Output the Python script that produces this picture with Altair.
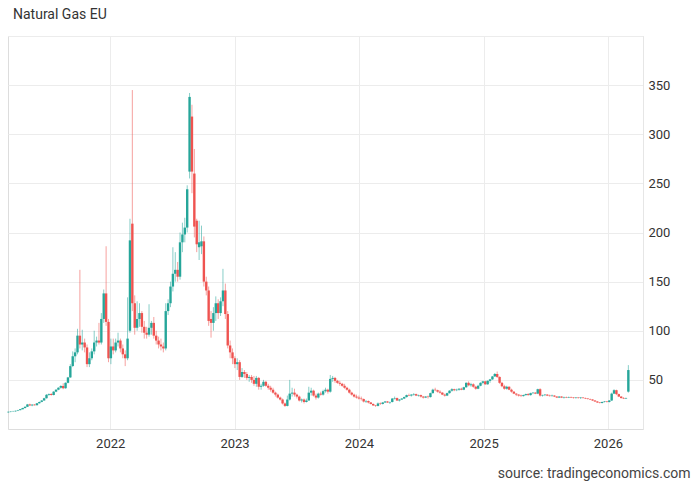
import altair as alt
import pandas as pd

title_text = "Natural Gas EU"
source_text = "source: tradingeconomics.com"
first_week = "2021-03-08"
n_weeks = 261
year_ticks = [2022, 2023, 2024, 2025, 2026]
y_ticks = [0, 50, 100, 150, 200, 250, 300, 350, 400]
up_color = "#26a69a"
down_color = "#ef5350"

# ---- weekly candles (EUR/MWh) ----
open_2021 = [17.0, 17.5, 17.8, 18.0, 18.5, 19.2, 20.2, 21.3, 22.6, 25.0, 24.0, 24.8, 24.2, 26.2, 27.6, 29.0, 31.3, 34.8, 35.6, 34.6, 38.0, 40.0, 42.0, 43.8, 41.5, 47.0, 52.5, 64.0, 74.0, 78.0, 95.0, 86.0, 88.0, 83.0, 66.0, 72.0, 79.0, 88.0, 90.0, 88.0, 112.0, 138.0, 109.0]
high_2021 = [17.8, 18.2, 18.5, 18.8, 19.5, 20.4, 21.6, 23.0, 25.5, 25.8, 25.2, 25.4, 26.5, 28.0, 29.5, 31.8, 35.5, 36.2, 36.5, 38.5, 40.5, 42.5, 44.5, 46.5, 47.5, 53.0, 66.0, 79.0, 82.0, 102.0, 162.0, 101.0, 92.0, 86.0, 78.0, 82.0, 100.0, 94.0, 108.0, 118.0, 142.0, 186.0, 112.0]
low_2021 = [16.5, 17.0, 17.4, 17.6, 18.2, 19.0, 20.0, 21.0, 22.4, 23.6, 23.2, 23.8, 24.0, 25.8, 27.2, 28.8, 31.0, 33.8, 34.0, 34.2, 37.5, 39.5, 41.0, 40.5, 41.0, 46.5, 52.0, 63.0, 68.0, 76.0, 82.0, 80.0, 78.0, 63.0, 63.0, 70.0, 76.0, 84.0, 86.0, 86.0, 108.0, 105.0, 68.0]
close_2021 = [17.5, 17.8, 18.0, 18.5, 19.2, 20.2, 21.3, 22.6, 25.0, 24.0, 24.8, 24.2, 26.2, 27.6, 29.0, 31.3, 34.8, 35.6, 34.6, 38.0, 40.0, 42.0, 43.8, 41.5, 47.0, 52.5, 64.0, 74.0, 78.0, 95.0, 86.0, 88.0, 83.0, 66.0, 72.0, 79.0, 88.0, 90.0, 88.0, 112.0, 138.0, 109.0, 72.0]

open_2022 = [72, 84, 80, 88, 90, 82, 76, 72, 100, 209, 128, 103, 112, 118, 104, 98, 96, 103, 108, 95, 90, 86, 84, 82, 120, 128, 145, 158, 162, 155, 190, 198, 205, 262, 318, 260, 212, 185, 186, 191, 150, 141, 112, 108, 118, 128, 118, 130, 141, 117, 85, 78]
high_2022 = [92, 92, 92, 98, 92, 86, 80, 134, 214, 345, 136, 130, 128, 120, 110, 104, 127, 110, 114, 100, 94, 92, 88, 128, 132, 150, 185, 180, 170, 200, 210, 215, 248, 342, 330, 285, 214, 212, 207, 196, 155, 145, 120, 124, 135, 132, 134, 163, 148, 120, 90, 82]
low_2022 = [66, 76, 78, 84, 78, 72, 64, 70, 98, 120, 96, 100, 104, 98, 92, 92, 94, 96, 92, 86, 82, 80, 78, 80, 116, 124, 140, 150, 150, 152, 180, 190, 200, 255, 240, 195, 180, 172, 178, 145, 136, 105, 93, 100, 110, 112, 115, 125, 112, 82, 72, 66]
close_2022 = [84, 80, 88, 90, 82, 76, 72, 92, 192, 128, 103, 112, 118, 104, 98, 96, 103, 108, 95, 90, 86, 84, 82, 120, 128, 145, 158, 162, 155, 190, 198, 205, 244, 338, 262, 206, 188, 190, 191, 150, 141, 110, 108, 118, 128, 118, 130, 141, 117, 85, 78, 72]

open_2023 = [72, 66, 68, 53, 58, 56, 52, 53, 50, 46, 52, 43, 44, 48, 44, 42, 40, 37, 35, 32, 30, 26, 23.5, 30, 36, 37, 35, 33, 29, 30, 27.5, 29, 37, 39, 34, 32, 36, 35, 38.5, 40, 38, 51, 52, 49, 47, 46, 44, 42, 40, 37, 35, 33]
high_2023 = [74, 72, 70, 62, 60, 58, 55, 55, 54, 54, 53, 46, 50, 49, 46, 44, 42, 38, 36, 33, 31, 27, 34, 50, 42, 41, 36, 34, 31, 31, 31, 43, 42, 40, 36, 37, 38, 40, 42, 41, 55, 54, 53, 50, 49, 47, 46, 43, 41, 38, 36, 35]
low_2023 = [62, 60, 50, 52, 52, 50, 48, 47, 44, 43, 40, 40, 43, 43, 40, 38, 36, 33, 31, 29, 25, 22.5, 23, 29, 33, 33, 31, 28, 27, 26, 27, 29, 34, 33, 30, 31, 34, 34, 37, 36, 37, 48, 47, 46, 44, 43, 41, 39, 36, 34, 32, 31]
close_2023 = [66, 68, 53, 58, 56, 52, 53, 50, 46, 52, 43, 44, 48, 44, 42, 40, 37, 35, 32, 30, 26, 23.5, 30, 36, 37, 35, 33, 29, 30, 27.5, 29, 37, 39, 34, 32, 36, 35, 38.5, 40, 38, 51, 52, 49, 47, 46, 44, 42, 40, 37, 35, 33, 32]

open_2024 = [32, 31, 30.5, 28, 28.5, 27, 25.5, 24, 23.5, 26, 25.5, 27, 28, 27, 27.5, 31, 31.5, 29, 30, 31, 32.5, 34.5, 34, 35, 35.5, 34, 34.5, 33, 32, 33, 32.5, 36.5, 40, 39.5, 38, 37, 35, 34, 36.5, 39, 40.5, 39.5, 40, 41, 40, 42.5, 47, 44.5, 45.5, 43, 41, 44, 47]
high_2024 = [34, 33, 31, 29.5, 29, 27.5, 26, 24.5, 27, 27, 27.5, 28.5, 28.5, 28, 31.5, 33, 32, 30.5, 31.5, 33, 35, 36, 35.5, 36.5, 36, 35, 35, 33.5, 33.5, 34, 37, 41, 42, 40, 39.5, 37.5, 36, 37, 39.5, 41.5, 41, 41, 41.5, 42, 43, 47.5, 48.5, 47, 46.5, 44, 45, 47.5, 49]
low_2024 = [30, 29, 27, 26.5, 26, 25, 23.5, 22.5, 23, 24.5, 25, 26.5, 26.5, 25.5, 27, 30, 28.5, 28, 29.5, 30.5, 32, 33.5, 33, 34, 33.5, 33, 32, 31, 31.5, 31, 32, 36, 38.5, 37, 36, 34.5, 33, 33.5, 36, 38, 38.5, 38.5, 39, 39.5, 39.5, 42, 43.5, 43, 42, 40, 40.5, 43.5, 45.5]
close_2024 = [31, 30.5, 28, 28.5, 27, 25.5, 24, 23.5, 26, 25.5, 27, 28, 27, 27.5, 31, 31.5, 29, 30, 31, 32.5, 34.5, 34, 35, 35.5, 34, 34.5, 33, 32, 33, 32.5, 36.5, 40, 39.5, 38, 37, 35, 34, 36.5, 39, 40.5, 39.5, 40, 41, 40, 42.5, 47, 44.5, 45.5, 43, 41, 44, 47, 48.5]

open_2025 = [48.5, 45.5, 49, 50.5, 53.5, 56, 53, 47, 43.5, 41, 43, 40, 38, 36, 35, 34, 33.5, 34.5, 35.5, 34.5, 36.5, 37, 36, 40.5, 34, 34.5, 35, 34, 33.5, 34, 33, 32, 33, 32, 32.5, 32, 32.5, 32, 31.5, 32, 31.5, 32, 31.5, 31, 30.5, 30, 29, 28, 27, 26.5, 27.5, 28]
high_2025 = [49, 49.5, 51, 54, 57, 58.5, 53.5, 48, 45, 44, 43.5, 41, 38.5, 36.5, 35.5, 35, 35, 36, 36.5, 37, 37.5, 37.5, 41, 41.5, 35, 35.5, 35.5, 35, 35, 34.5, 33.5, 33.5, 33.5, 33, 33, 33, 33, 32.5, 32.5, 32.5, 32.5, 32.5, 32, 31.5, 31, 30.5, 29.5, 28.5, 27.5, 28, 28.5, 28.5]
low_2025 = [45, 45, 47, 50, 53, 52, 46, 42.5, 40, 40, 39.5, 37, 35.5, 33.5, 33, 32.5, 33, 34, 34, 34, 35.5, 35.5, 35.5, 33, 33, 33.5, 33.5, 33, 33, 32.5, 31.5, 31.5, 31.5, 31, 31.5, 31.5, 31.5, 31, 31, 31, 30.5, 31, 30.5, 30, 29.5, 28.5, 27.5, 26.5, 26, 26, 27, 27]
close_2025 = [45.5, 49, 50.5, 53.5, 56, 53, 47, 43.5, 41, 43, 40, 38, 36, 35, 34, 33.5, 34.5, 35.5, 34.5, 36.5, 37, 36, 40.5, 34, 34.5, 35, 34, 33.5, 34, 33, 32, 33, 32, 32.5, 32, 32.5, 32, 31.5, 32, 31.5, 32, 31.5, 31, 30.5, 30, 29, 28, 27, 26.5, 27.5, 28, 27.5]

open_2026 = [27.5, 29, 36, 39.5, 35.5, 33, 31.5, 31, 38]
high_2026 = [29.5, 37, 40.5, 40, 36, 33.5, 32.5, 32, 65]
low_2026 = [27, 28.5, 35.5, 34.5, 32.5, 31, 30.5, 30.5, 37]
close_2026 = [29, 36, 39.5, 35.5, 33, 31.5, 31, 31.5, 60]

opens = open_2021 + open_2022 + open_2023 + open_2024 + open_2025 + open_2026
highs = high_2021 + high_2022 + high_2023 + high_2024 + high_2025 + high_2026
lows = low_2021 + low_2022 + low_2023 + low_2024 + low_2025 + low_2026
closes = close_2021 + close_2022 + close_2023 + close_2024 + close_2025 + close_2026

weeks = pd.date_range(first_week, periods=n_weeks, freq="7D").strftime("%Y-%m-%d")
df = pd.DataFrame({"week": weeks, "open": opens, "high": highs, "low": lows, "close": closes})
df["dir"] = ["up" if c >= o else "down" for o, c in zip(df["open"], df["close"])]

x_scale = alt.Scale(domain=[alt.DateTime(year=2021, month=3, date=7, utc=True),
                            alt.DateTime(year=2026, month=4, date=14, utc=True)],
                    padding=0, nice=False)
y_scale = alt.Scale(domain=[0, 400], nice=False, zero=False)

x_axis = alt.Axis(
    values=[alt.DateTime(year=y, month=1, date=1, utc=True) for y in year_ticks],
    format="%Y", formatType="utc", ticks=False, labelPadding=8, labelFontSize=13,
    labelColor="#333333", labelFont="Roboto", domainColor="#dddddd", gridColor="#ececec",
    grid=True,
    title=source_text, titleFont="Roboto", titleFontSize=14, titleFontWeight="normal",
    titleColor="#444444", titleAlign="right", titleBaseline="alphabetic",
    titleX=682, titleY=48, titleAnchor="end",
)
y_axis = alt.Axis(
    orient="right", values=y_ticks, ticks=False, labelPadding=5, labelFontSize=13,
    labelColor="#333333", labelFont="Roboto", domainColor="#e6e6e6", gridColor="#ececec",
    labelExpr="datum.value >= 50 && datum.value <= 350 ? datum.label : ''", title=None,
)

color = alt.Color("dir:N", scale=alt.Scale(domain=["up", "down"], range=[up_color, down_color]), legend=None)

base = alt.Chart(df).encode(
    x=alt.X("week:T", scale=x_scale, axis=x_axis),
    color=color,
)

wicks = base.mark_rule(strokeWidth=1, opacity=0.55).encode(
    y=alt.Y("low:Q", scale=y_scale, axis=y_axis), y2="high:Q"
)
bodies = base.mark_bar(size=2.4).encode(
    y=alt.Y("open:Q", scale=y_scale), y2="close:Q"
)

chart = alt.layer(wicks, bodies).properties(
    width=635, height=393,
    autosize=alt.AutoSizeParams(type="none"),
    padding={"left": 8, "top": 36, "right": 57, "bottom": 56},
    title=alt.TitleParams(title_text, anchor="start", frame="group", fontSize=14,
                          fontWeight="normal", color="#333333", font="Roboto", offset=14, dx=5),
).configure_view(stroke=None).configure(font="Roboto", background="white")

chart.save("out.html", embed_options={"renderer": "svg", "actions": False})
